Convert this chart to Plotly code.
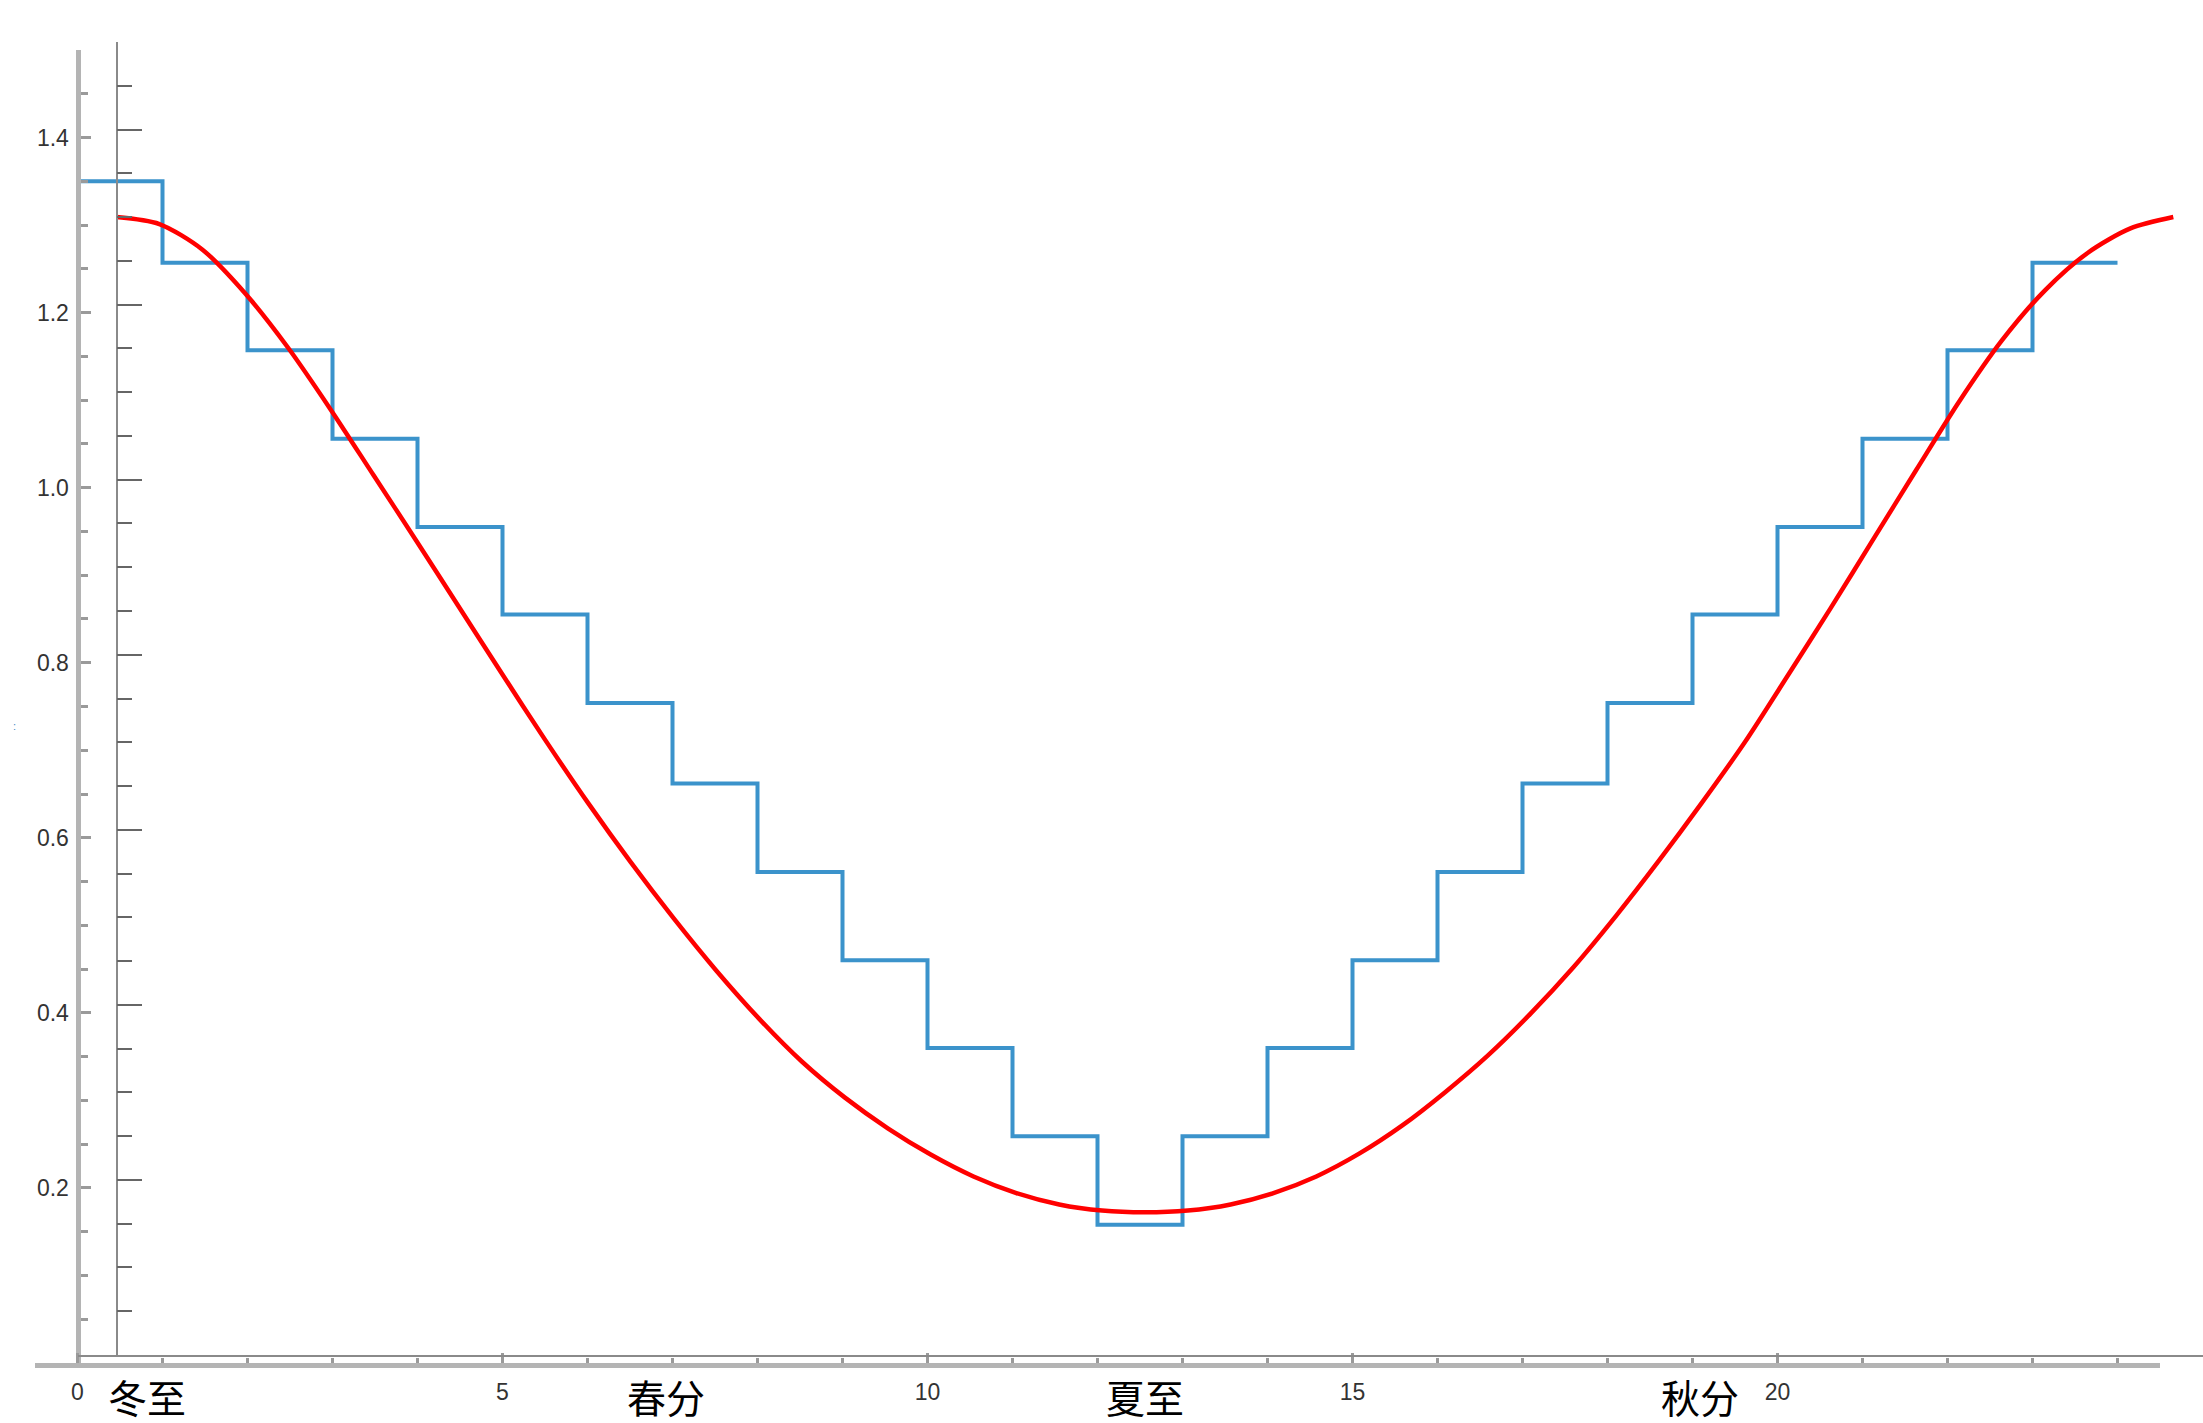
import plotly.graph_objects as go

# ---- data -------------------------------------------------------------
# stepped series: one level per interval between consecutive edges
step_edges = list(range(0, 25))
step_levels = [1.350, 1.257, 1.157, 1.056, 0.955, 0.855, 0.754, 0.662,
               0.561, 0.460, 0.360, 0.259, 0.158, 0.259, 0.360, 0.460,
               0.561, 0.662, 0.754, 0.855, 0.955, 1.056, 1.157, 1.257]

# smooth curve sampled every half solar-term
term_index = [i / 2 for i in range(0, 49)]
curve_values = [1.300, 1.292, 1.263, 1.213, 1.151, 1.080, 1.005, 0.930,
                0.854, 0.778, 0.703, 0.631, 0.563, 0.499, 0.439, 0.384,
                0.335, 0.294, 0.259, 0.229, 0.204, 0.185, 0.172, 0.165,
                0.163,
                0.165, 0.172, 0.185, 0.204, 0.230, 0.262, 0.300, 0.342,
                0.390, 0.443, 0.502, 0.565, 0.631, 0.700, 0.776, 0.853,
                0.932, 1.011, 1.089, 1.159, 1.216, 1.259, 1.287, 1.300]

# named solar terms and their term index
term_names = ["冬至", "春分", "夏至", "秋分"]
term_at = [0, 6, 12, 18]

x_tick_vals = [0, 5, 10, 15, 20]
y_tick_vals = [0.2, 0.4, 0.6, 0.8, 1.0, 1.2, 1.4]

# ---- geometry (pixels) -------------------------------------------------
W, H = 2203, 1423
# main (thick gray) axes
gx_left, gx_right = 35.0, 2160.0          # x-axis line extent
gx_min, gx_max = -0.5, 24.5
gy_zero, gy_top = 1363.0, 50.0            # y=0 and y=1.5
gyax_px = 77.5                            # position of gray y axis (x=0)
# secondary (thin) axes
tx_zero, tk_px = 116.5, 85.7              # k=0 position, pixels per term
tx_left = 77.5
ty_zero, ty_top = 1355.0, 42.0

def px(v):
    return v / W

def py(v):
    return (H - v) / H

blue = "#3b93cb"
red = "#ff0000"

fig = go.Figure()

fig.add_trace(go.Scatter(
    x=step_edges,
    y=step_levels + [step_levels[-1]],
    mode="lines",
    line=dict(color=blue, width=4, shape="hv"),
    xaxis="x", yaxis="y",
    hoverinfo="skip",
))

fig.add_trace(go.Scatter(
    x=term_index,
    y=curve_values,
    mode="lines",
    line=dict(color=red, width=4.5, shape="spline", smoothing=0.8),
    xaxis="x2", yaxis="y2",
    hoverinfo="skip",
))

tick_font = dict(family="Liberation Sans, Arial, sans-serif", color="#333333")

fig.update_layout(
    width=W, height=H,
    margin=dict(l=0, r=0, t=0, b=0),
    paper_bgcolor="white",
    plot_bgcolor="rgba(0,0,0,0)",
    showlegend=False,
    xaxis=dict(
        domain=[px(gx_left), px(gx_right)],
        range=[gx_min, gx_max],
        anchor="y",
        showline=True, linecolor="#b4b4b4", linewidth=5,
        showgrid=False, zeroline=False,
        tickmode="array", tickvals=x_tick_vals,
        ticktext=[str(v) for v in x_tick_vals],
        ticks="inside", ticklen=10, tickwidth=2.5, tickcolor="#9a9a9a",
        minor=dict(dtick=1, tick0=0, ticks="inside", ticklen=5,
                   tickwidth=2.5, tickcolor="#9a9a9a", showgrid=False),
        tickfont=dict(size=23, **tick_font),
        ticklabelstandoff=4,
    ),
    yaxis=dict(
        domain=[py(gy_zero), py(gy_top)],
        range=[0, 1.5],
        anchor="free", position=px(gyax_px),
        showline=True, linecolor="#b4b4b4", linewidth=5,
        showgrid=False, zeroline=False,
        tickmode="array", tickvals=y_tick_vals,
        ticktext=["%.1f" % v for v in y_tick_vals],
        ticks="inside", ticklen=10, tickwidth=2.5, tickcolor="#9a9a9a",
        minor=dict(dtick=0.05, tick0=0, ticks="inside", ticklen=7,
                   tickwidth=2.5, tickcolor="#9a9a9a", showgrid=False),
        tickfont=dict(size=23, **tick_font),
        ticklabelstandoff=2,
    ),
    xaxis2=dict(
        domain=[px(tx_left), 1.0],
        range=[(tx_left - tx_zero) / tk_px, (W - tx_zero) / tk_px],
        anchor="y2",
        showline=True, linecolor="#8a8a8a", linewidth=1.5,
        showgrid=False, zeroline=False,
        ticks="", showticklabels=False,
    ),
    yaxis2=dict(
        domain=[py(ty_zero), py(ty_top)],
        range=[0, 1.5],
        anchor="free", position=px(tx_zero),
        showline=True, linecolor="#8a8a8a", linewidth=1.5,
        showgrid=False, zeroline=False,
        tickmode="linear", tick0=0, dtick=0.2,
        ticks="inside", ticklen=25, tickwidth=1.5, tickcolor="#666666",
        showticklabels=False,
        minor=dict(dtick=0.05, tick0=0, ticks="inside", ticklen=15,
                   tickwidth=1.5, tickcolor="#666666", showgrid=False),
    ),
)

# solar-term labels under the axis
term_shift = [30, 35, 0, 41]
for name, k, dx in zip(term_names, term_at, term_shift):
    fig.add_annotation(
        x=k, xref="x2", y=py(1396), yref="paper",
        text=name, showarrow=False, xshift=dx,
        xanchor="center", yanchor="middle",
        font=dict(family="Noto Sans CJK SC", size=39, color="black"),
    )

# small stray mark at the left edge
fig.add_annotation(
    x=px(14), y=py(726), xref="paper", yref="paper",
    text=":", showarrow=False, xanchor="center", yanchor="middle",
    font=dict(family="Liberation Sans", size=11, color="#4a8cc4"),
)

fig.write_html("out.html")
